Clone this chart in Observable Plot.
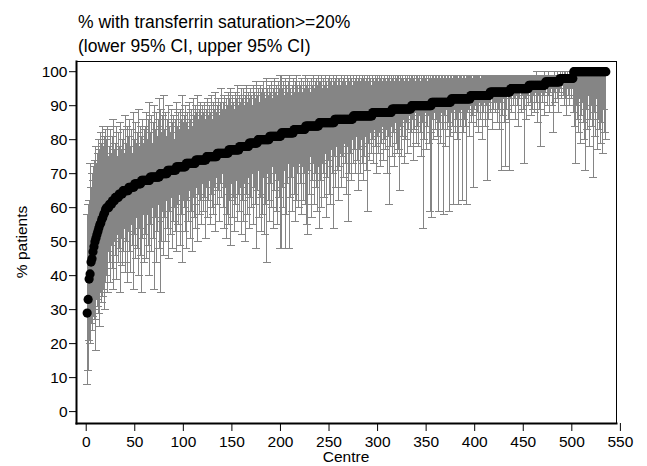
<!DOCTYPE html>
<html><head><meta charset="utf-8">
<script src="https://cdn.jsdelivr.net/npm/d3@7"></script>
<script src="https://cdn.jsdelivr.net/npm/@observablehq/plot@0.6"></script>
<style>
body{margin:0;background:#fff;}
svg{font-family:"Liberation Sans",Arial,Helvetica,sans-serif;}
</style>
</head><body><div id="chart"></div>
<script>
const titleLines = ["% with transferrin saturation>=20%", "(lower 95% CI, upper 95% CI)"];
const xLabel = "Centre";
const yLabel = "% patients";
const xTicks = [0, 50, 100, 150, 200, 250, 300, 350, 400, 450, 500, 550];
const yTicks = [0, 10, 20, 30, 40, 50, 60, 70, 80, 90, 100];

// sorted centre percentages, run-length encoded (value, number of centres)
const pctRunValues = [29,33,39,40.5,44,45,47,48.5,50,51,52,53,54,55,55.5,56.5,57,58,58.5,59.5,
  60,61,62,63,64,65,66,67,68,69,70,71,72,73,74,75,76,77,78,79,80,81,82,83,84,85,86,87,88,89,90,91,92,93,94,95,96,97,98,100];
const pctRunCounts = [1,1,1,1,1,1,1,1,1,1,1,1,1,1,1,1,1,1,1,1,
  3,3,3,4,4,6,6,7,9,10,8,9,10,10,11,11,12,11,10,9,12,12,13,12,14,16,19,20,20,20,21,20,20,20,21,19,17,15,14,34];

const lowerCI = [
 8,12,21,20,26,24,28,30,27,18,33,31,29,25,35,32,34,36,30,38,
 40,35,47,44,38,49,42,36,50,46,39,52,44,48,35,51,43,47,54,41,
 50,44,38,53,47,41,55,49,36,52,45,57,48,40,54,46,35,51,58,44,
 52,45,58,49,40,55,47,60,51,36,57,44,53,61,48,56,35,50,59,46,
 57,50,62,54,45,59,52,63,48,56,60,53,47,61,55,64,49,58,44,62,
 60,53,48,62,56,65,51,59,47,63,57,61,54,66,50,64,58,62,55,67,
 59,63,51,66,57,62,68,55,64,60,58,66,53,69,61,65,56,67,63,70,
 60,54,66,51,58,64,55,62,49,67,57,63,53,61,68,56,64,59,66,52,
 62,56,67,50,64,58,69,54,63,60,70,55,66,61,48,65,71,57,63,53,
 64,58,69,52,61,44,70,62,56,67,60,72,54,65,70,59,55,68,63,48,
 48,66,60,71,48,58,67,73,48,63,69,59,72,64,56,74,62,70,60,73,
 67,58,72,62,70,61,55,52,71,64,75,57,68,73,61,70,66,59,72,54,
 68,60,73,70,63,76,57,69,74,64,72,61,77,70,54,75,66,78,71,62,
 72,76,66,75,69,79,73,64,78,56,70,76,68,80,73,77,70,81,74,65,
 77,70,80,73,68,78,75,81,71,59,79,74,82,76,80,73,83,78,70,81,
 76,82,72,79,84,74,80,77,83,70,81,61,78,84,75,82,72,85,79,76,
 83,77,65,84,75,81,86,73,80,85,76,83,87,78,82,86,74,83,88,79,
 84,78,87,82,75,85,54,80,88,77,84,87,79,59,82,57,86,80,88,83,
 86,81,59,85,79,88,83,58,87,78,89,83,85,59,81,88,84,61,89,82,
 86,80,61,88,84,89,62,82,86,90,84,61,88,89,81,90,85,87,66,89,
 90,84,88,82,91,86,90,80,88,91,84,90,68,86,91,88,92,83,89,91,
 88,91,85,92,89,83,91,71,87,92,85,72,89,93,86,71,92,88,93,90,
 92,86,93,90,84,92,94,88,93,89,73,92,86,93,90,94,91,87,93,89,
 93,88,94,91,85,93,89,78,94,91,93,87,94,95,90,93,88,94,95,90,
 82,94,91,95,92,88,94,95,92,96,93,90,95,92,87,95,93,90,95,92,
 95,88,84,73,90,86,82,92,79,87,91,85,80,71,89,83,93,78,86,90,
 84,69,88,81,92,77,86,83,90,79,85,76,89,82,80];

const upperCI = [
 58,61,62,73,66,70,68,72,74,78,73,76,80,77,82,79,84,78,81,83,
 80,84,75,78,83,76,81,86,77,79,84,75,82,78,85,77,80,83,76,87,
 79,84,77,81,86,78,83,76,88,80,85,79,82,89,78,84,81,86,79,83,
 84,88,80,86,91,82,87,79,85,90,83,88,81,86,92,84,89,82,87,93,
 83,88,81,86,90,84,82,89,85,87,80,86,91,84,88,83,89,86,93,85,
 87,90,85,88,83,91,86,89,84,92,87,85,90,88,93,86,89,91,87,90,
 88,91,86,89,92,87,90,88,93,86,91,89,94,88,90,92,87,91,95,89,
 91,93,89,92,90,94,88,92,95,90,93,91,89,94,92,96,90,93,91,95,
 92,95,90,93,96,91,94,92,95,93,90,96,94,92,97,93,95,91,96,94,
 95,93,97,94,92,98,95,93,96,94,97,92,95,98,94,96,93,97,95,99,
 99,95,97,93,98,96,94,97,99,95,93,96,98,94,97,95,99,96,94,97,
 96,98,94,97,95,99,96,98,95,97,94,98,96,99,95,97,98,96,99,97,
 97,99,95,98,96,99,97,95,98,96,99,97,98,96,99,97,98,99,96,98,
 98,96,99,97,98,99,97,96,99,98,97,99,98,96,99,97,98,99,97,98,
 99,97,98,99,96,98,99,97,98,99,97,99,98,96,99,98,97,99,98,99,
 97,99,98,99,97,98,99,98,97,99,98,99,97,99,98,99,97,99,98,99,
 98,99,97,99,98,99,98,97,99,98,99,97,99,98,99,99,98,99,97,99,
 99,98,99,97,99,98,99,99,98,99,97,99,98,99,99,98,99,99,98,99,
 99,98,99,99,98,99,99,98,99,99,98,99,99,98,99,99,98,99,99,99,
 99,99,98,99,99,99,98,99,99,99,98,99,99,99,99,99,99,98,99,99,
 99,99,99,99,99,98,99,99,99,99,99,99,99,99,99,99,99,99,99,99,
 99,99,99,99,99,99,99,99,99,99,99,99,99,99,99,99,99,99,99,99,
 99,99,99,99,99,99,99,99,99,99,99,99,99,99,99,99,99,99,99,99,
 99,99,99,100,99,99,99,99,99,99,99,100,99,99,99,100,99,99,99,99,
 99,100,99,99,100,99,99,100,99,100,99,100,99,100,99,100,99,100,100,99,
 100,100,100,100,100,100,100,100,100,100,100,100,100,100,100,100,100,100,100,100,
 100,100,100,100,100,100,100,100,100,100,100,100,100,100,100];

const pct = pctRunValues.flatMap((v, i) => Array(pctRunCounts[i]).fill(v));
const data = pct.map((p, i) => ({centre: i + 1, pct: p, lo: lowerCI[i], hi: upperCI[i]}));

const capSymbol = {draw(ctx, size) { const w = Math.sqrt(size / Math.PI); ctx.moveTo(-w, 0); ctx.lineTo(w, 0); }};
const barColor = "#858585";

const plot = Plot.plot({
  width: 647, height: 466,
  marginLeft: 76, marginRight: 31, marginTop: 61, marginBottom: 43,
  style: {fontFamily: '"Liberation Sans", Arial, sans-serif', fontSize: "15.5px", color: "#000", background: "#fff", overflow: "visible"},
  x: {domain: [-10, 546]},
  y: {domain: [-3.5, 103]},
  marks: [
    Plot.ruleX(data, {x: "centre", y1: "lo", y2: "hi", stroke: barColor, strokeWidth: 1, shapeRendering: "crispEdges"}),
    Plot.dot(data, {x: "centre", y: "lo", symbol: capSymbol, r: 4, fill: "none", stroke: barColor, strokeWidth: 1, shapeRendering: "crispEdges"}),
    Plot.dot(data, {x: "centre", y: "hi", symbol: capSymbol, r: 4, fill: "none", stroke: barColor, strokeWidth: 1, shapeRendering: "crispEdges"}),
    Plot.dot(data, {x: "centre", y: "pct", r: 4.6, fill: "#000", stroke: "none"}),
    Plot.frame({stroke: "#000", strokeWidth: 1}),
    Plot.frame({anchor: "left", stroke: "#000", strokeWidth: 2}),
    Plot.frame({anchor: "bottom", stroke: "#000", strokeWidth: 2}),
    Plot.axisX(xTicks, {tickSize: 8, tickPadding: 4, stroke: "#000", label: null}),
    Plot.axisY(yTicks, {tickSize: 7, tickPadding: 2, stroke: "#000", label: null})
  ]
});

const svg = d3.select(plot);
titleLines.forEach((t, i) => {
  svg.append("text").attr("x", 78).attr("y", 28 + i * 24)
    .attr("text-anchor", "start").attr("font-size", "17.5px").attr("fill", "#000").text(t);
});
svg.append("text").attr("x", 346).attr("y", 462).attr("text-anchor", "middle")
  .attr("font-size", "15.5px").attr("fill", "#000").text(xLabel);
svg.append("text").attr("transform", "translate(27,242) rotate(-90)").attr("text-anchor", "middle")
  .attr("font-size", "15.5px").attr("fill", "#000").text(yLabel);
document.getElementById("chart").appendChild(plot);
</script>
</body></html>
